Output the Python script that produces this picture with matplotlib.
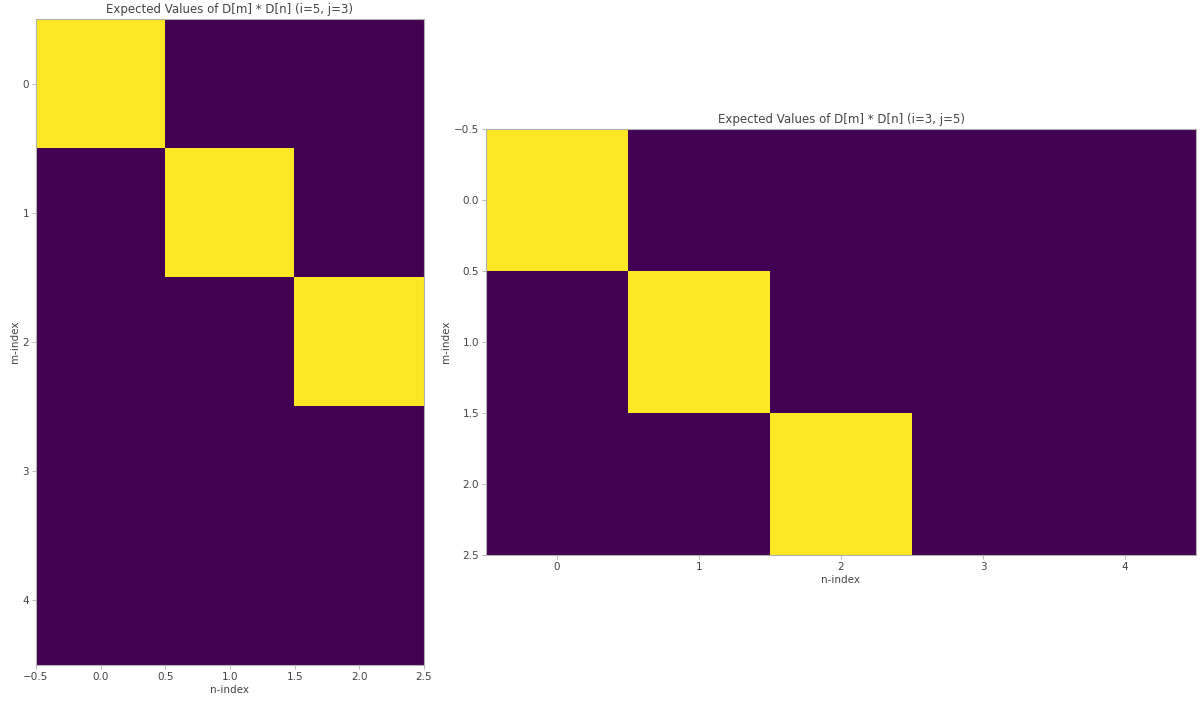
import numpy as np
import matplotlib.pyplot as plt

# expected values of D[m] * D[n]: 1 when m == n, else 0
left_rows, left_cols = 5, 3   # i=5, j=3
right_rows, right_cols = 3, 5  # i=3, j=5
left_vals = np.eye(left_rows, left_cols)
right_vals = np.eye(right_rows, right_cols)

left_xticks = [-0.5, 0.0, 0.5, 1.0, 1.5, 2.0, 2.5]
left_yticks = [0, 1, 2, 3, 4]
right_xticks = [0, 1, 2, 3, 4]
right_yticks = [-0.5, 0.0, 0.5, 1.0, 1.5, 2.0, 2.5]

text_color = "#444444"
spine_color = "#b0b0b0"


def style_axes(ax, title):
    ax.set_title(title, fontsize=8.5, color=text_color, pad=4)
    ax.set_xlabel("n-index", fontsize=7.5, color=text_color, labelpad=2)
    ax.set_ylabel("m-index", fontsize=7.5, color=text_color, labelpad=2)
    ax.tick_params(labelsize=7.5, colors=text_color, length=3, width=0.6, color=spine_color, pad=2)
    for sp in ax.spines.values():
        sp.set_color(spine_color)
        sp.set_linewidth(0.8)


fig = plt.figure(figsize=(12, 7.03), dpi=100)
W, H = 1200, 703

ax1 = fig.add_axes([36 / W, 1 - 665 / H, (424 - 36) / W, (665 - 19) / H])
ax1.imshow(left_vals, cmap="viridis", aspect="auto", interpolation="nearest")
ax1.set_xticks(left_xticks)
ax1.set_yticks(left_yticks)
ax1.set_xlim(-0.5, left_cols - 0.5)
ax1.set_ylim(left_rows - 0.5, -0.5)
style_axes(ax1, "Expected Values of D[m] * D[n] (i=5, j=3)")

ax2 = fig.add_axes([486 / W, 1 - 555 / H, (1196 - 486) / W, (555 - 129) / H])
ax2.imshow(right_vals, cmap="viridis", aspect="auto", interpolation="nearest")
ax2.set_xticks(right_xticks)
ax2.set_yticks(right_yticks)
ax2.set_xlim(-0.5, right_cols - 0.5)
ax2.set_ylim(right_rows - 0.5, -0.5)
style_axes(ax2, "Expected Values of D[m] * D[n] (i=3, j=5)")

fig.savefig("out.png", dpi=100)
